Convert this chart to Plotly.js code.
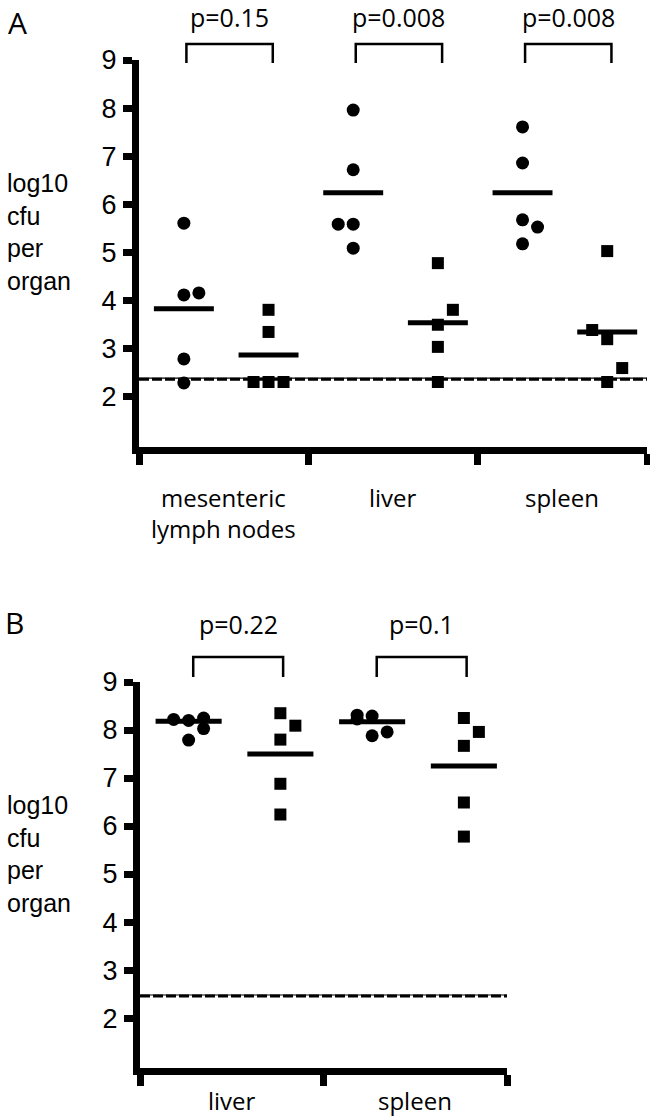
<!DOCTYPE html>
<html><head><meta charset="utf-8">
<script src="https://cdn.plot.ly/plotly-3.0.1.min.js"></script>
<style>html,body{margin:0;padding:0;background:#fff}#chart{width:650px;height:1117px}</style>
</head><body><div id="chart"></div>
<script>
// ---------------- data ----------------
const categoriesA = ['mesenteric<br>lymph nodes', 'liver', 'spleen'];
const circlesA = [[5.61, 4.12, 4.16, 2.79, 2.29], [7.96, 6.72, 5.59, 5.59, 5.09], [7.61, 6.86, 5.68, 5.53, 5.18]];
const circleSlotsA = [[0, 0, 1, 0, 0], [0, 0, -1, 0, 0], [0, 0, 0, 1, 0]];
const squaresA = [[3.81, 3.35, 2.31, 2.31, 2.31], [4.78, 3.81, 3.50, 3.04, 2.31], [5.03, 3.39, 3.20, 2.60, 2.31]];
const squareSlotsA = [[0, 0, -1, 0, 1], [0, 1, 0, 0, 0], [0, -1, 0, 1, 0]];
const circleMeansA = [3.83, 6.24, 6.24];
const squareMeansA = [2.87, 3.54, 3.35];
const pValuesA = ['p=0.15', 'p=0.008', 'p=0.008'];
const limitA = 2.37;

const categoriesB = ['liver', 'spleen'];
const circlesB = [[8.22, 8.20, 8.25, 8.03, 7.79], [8.31, 8.23, 8.29, 7.88, 7.96]];
const circleSlotsB = [[-1, 0, 1, 1, 0], [-1, -1, 0, 0, 1]];
const squaresB = [[8.35, 8.09, 7.80, 6.88, 6.24], [8.25, 7.96, 7.67, 6.49, 5.78]];
const squareSlotsB = [[0, 1, 0, 0, 0], [0, 1, 0, 0, 0]];
const circleMeansB = [8.18, 8.17];
const squareMeansB = [7.50, 7.25];
const pValuesB = ['p=0.22', 'p=0.1'];
const limitB = 2.46;

const yTicks = [2, 3, 4, 5, 6, 7, 8, 9];
const yTitle = 'log10<br>cfu<br>per<br>organ';

// ---------------- layout helpers ----------------
const W = 650, H = 1117;
const py = p => 1 - p / H;
const CIRC_OFF = 0.265, SQ_OFF = 0.765;
const textFont = 'Open Sans, Noto Sans, sans-serif';
const axisFont = 'Liberation Sans, Arial, sans-serif';

function points(groups, slots, off, step) {
  const x = [], y = [];
  groups.forEach((vals, i) => vals.forEach((v, k) => { x.push(i + off + slots[i][k] * step); y.push(v); }));
  return {x, y};
}
function meanBars(means, off, half) {
  const x = [], y = [];
  means.forEach((m, i) => { x.push(i + off - half, i + off + half, null); y.push(m, m, null); });
  return {x, y};
}

const traces = [];
function addPanel(xa, ya, circ, circSlots, sq, sqSlots, cm, sm, limit, nCat, step, half) {
  const c = points(circ, circSlots, CIRC_OFF, step);
  const s = points(sq, sqSlots, SQ_OFF, step);
  const mc = meanBars(cm, CIRC_OFF, half);
  const ms = meanBars(sm, SQ_OFF, half);
  traces.push({x: [0, nCat], y: [limit, limit], xaxis: xa, yaxis: ya, mode: 'lines',
    line: {color: '#000', width: 3, dash: '10px,3px'}, hoverinfo: 'skip'});
  traces.push({x: [0, nCat], y: [limit + 0.02, limit + 0.02], xaxis: xa, yaxis: ya, mode: 'lines',
    line: {color: '#000', width: 1.2}, hoverinfo: 'skip'});
  traces.push({x: mc.x.concat(ms.x), y: mc.y.concat(ms.y), xaxis: xa, yaxis: ya, mode: 'lines',
    line: {color: '#000', width: 5}, connectgaps: false});
  traces.push({x: c.x, y: c.y, xaxis: xa, yaxis: ya, mode: 'markers', cliponaxis: false,
    marker: {symbol: 'circle', size: 13, color: '#000'}});
  traces.push({x: s.x, y: s.y, xaxis: xa, yaxis: ya, mode: 'markers', cliponaxis: false,
    marker: {symbol: 'square', size: 12, color: '#000'}});
}
addPanel('x', 'y', circlesA, circleSlotsA, squaresA, squareSlotsA, circleMeansA, squareMeansA, limitA, 3, 0.0886, 0.177);
addPanel('x2', 'y2', circlesB, circleSlotsB, squaresB, squareSlotsB, circleMeansB, squareMeansB, limitB, 2, 0.0817, 0.18);

function xAxis(domain, n, anchor) {
  const tv = []; for (let i = 0; i <= n; i++) tv.push(i);
  return {domain, range: [0, n], anchor, showline: true, linecolor: '#000', linewidth: 7,
    ticks: 'outside', tickvals: tv, ticklen: 11, tickwidth: 7, tickcolor: '#000',
    showticklabels: false, showgrid: false, zeroline: false, fixedrange: true};
}
function yAxis(domain, anchor) {
  return {domain, range: [0.96, 9], anchor, showline: true, linecolor: '#000', linewidth: 7,
    ticks: 'outside', tickvals: yTicks, ticktext: yTicks.map(String), ticklen: 9, tickwidth: 7, tickcolor: '#000',
    tickfont: {family: axisFont, size: 27, color: '#000'}, ticklabelstandoff: 1,
    showgrid: false, zeroline: false, fixedrange: true};
}

const shapes = [], annotations = [];
function brackets(xref, n, top, bottom, lo, hi) {
  for (let i = 0; i < n; i++) {
    shapes.push({type: 'path', xref, yref: 'paper',
      path: `M${i + lo},${py(bottom)} L${i + lo},${py(top)} L${i + hi},${py(top)} L${i + hi},${py(bottom)}`,
      line: {color: '#000', width: 2.5}});
  }
}
brackets('x', 3, 44, 63, 0.28, 0.79);
brackets('x2', 2, 657, 677, 0.29, 0.78);

function pLabels(xref, labels, yc) {
  labels.forEach((t, i) => annotations.push({xref, yref: 'paper', x: i + 0.535, y: py(yc), text: t,
    showarrow: false, xanchor: 'center', yanchor: 'middle', font: {family: textFont, size: 25, color: '#000'}}));
}
pLabels('x', pValuesA, 17);
pLabels('x2', pValuesB, 624);

function catLabels(xref, cats, top) {
  cats.forEach((t, i) => annotations.push({xref, yref: 'paper', x: i + 0.5, y: py(top), text: t,
    showarrow: false, xanchor: 'center', yanchor: 'top', font: {family: textFont, size: 24, color: '#000'}}));
}
catLabels('x', categoriesA, 479);
catLabels('x2', categoriesB, 1082);

[[232, 'A', 23, 17], [854, 'B', 622, 14]].forEach(([yc, letter, ly, lx]) => {
  annotations.push({xref: 'paper', yref: 'paper', x: 5 / W, y: py(yc), text: yTitle, align: 'left',
    showarrow: false, xanchor: 'left', yanchor: 'middle', font: {family: axisFont, size: 25, color: '#000'}});
  annotations.push({xref: 'paper', yref: 'paper', x: lx / W, y: py(ly), text: letter,
    showarrow: false, xanchor: 'center', yanchor: 'middle', font: {family: textFont, size: 30, color: '#000'}});
});

const layout = {
  width: W, height: H, margin: {l: 0, r: 0, t: 0, b: 0}, showlegend: false,
  paper_bgcolor: '#fff', plot_bgcolor: '#fff',
  xaxis: xAxis([139 / W, 647 / W], 3, 'y'),
  yaxis: yAxis([py(447), py(60)], 'x'),
  xaxis2: xAxis([140 / W, 507 / W], 2, 'y2'),
  yaxis2: yAxis([py(1068), py(682)], 'x2'),
  shapes, annotations
};
Plotly.newPlot('chart', traces, layout, {staticPlot: true, displayModeBar: false});
</script></body></html>
